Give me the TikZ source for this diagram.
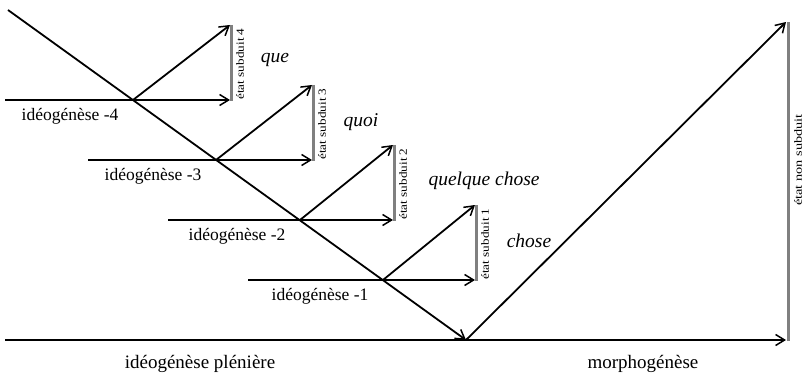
\documentclass[tikz,border=0pt]{standalone}
\usepackage{fontspec}
\setmainfont{Liberation Serif}
\usetikzlibrary{arrows.meta}
\definecolor{bargray}{RGB}{128,128,128}
\begin{document}
\begin{tikzpicture}[x=1pt,y=-1pt,
  ln/.style={line width=1.8pt,black},
  arr/.style={ln,-{Straight Barb[length=9pt,width=11pt,line width=1.5pt]}},
  bar/.style={line width=3pt,color=bargray},
  lbl/.style={inner sep=0pt,font=\fontsize{17.5}{20}\selectfont},
  big/.style={inner sep=0pt,font=\fontsize{19}{22}\selectfont},
  it/.style={inner sep=0pt,font=\fontsize{19.5}{22}\selectfont\itshape},
  sub/.style={inner sep=0pt,rotate=90,font=\fontsize{11}{13}\selectfont}]
\useasboundingbox (0,0) rectangle (805,374);
% key points
\coordinate (d0) at (8,10);
\coordinate (V) at (466,340);
\coordinate (i4) at (133,100);
\coordinate (i3) at (216,160);
\coordinate (i2) at (300,220);
\coordinate (i1) at (383,280);
\coordinate (h4) at (5,100);   \coordinate (e4) at (230,100);
\coordinate (h3) at (88,160);  \coordinate (e3) at (312,160);
\coordinate (h2) at (168,220); \coordinate (e2) at (393,220);
\coordinate (h1) at (248,280); \coordinate (e1) at (475,280);
\coordinate (h0) at (5,340);   \coordinate (e0) at (786,340);
\coordinate (t4) at (230,25);  \coordinate (b4t) at (231,25);  \coordinate (b4b) at (231,101);
\coordinate (t3) at (312,85);  \coordinate (b3t) at (313,85);  \coordinate (b3b) at (313,161);
\coordinate (t2) at (393,145); \coordinate (b2t) at (394,145); \coordinate (b2b) at (394,221);
\coordinate (t1) at (475,205); \coordinate (b1t) at (476,205); \coordinate (b1b) at (476,281);
\coordinate (t0) at (786,22);  \coordinate (b0t) at (788,22);  \coordinate (b0b) at (788,341);
% bars
\draw[bar] (b4t) -- (b4b);
\draw[bar] (b3t) -- (b3b);
\draw[bar] (b2t) -- (b2b);
\draw[bar] (b1t) -- (b1b);
\draw[bar] (b0t) -- (b0b);
% main diagonal
\draw[arr] (d0) -- (V);
% horizontals
\draw[arr] (h4) -- (e4);
\draw[arr] (h3) -- (e3);
\draw[arr] (h2) -- (e2);
\draw[arr] (h1) -- (e1);
\draw[arr] (h0) -- (e0);
% ascending arrows
\draw[arr] (i4) -- (t4);
\draw[arr] (i3) -- (t3);
\draw[arr] (i2) -- (t2);
\draw[arr] (i1) -- (t1);
\draw[arr] (V) -- (t0);
% labels
\node[lbl] (l4) at (70,116) {idéogénèse -4};
\node[lbl] (l3) at (153,176) {idéogénèse -3};
\node[lbl] (l2) at (237,236) {idéogénèse -2};
\node[lbl] (l1) at (320,296) {idéogénèse -1};
\node[big] (lp) at (200,364) {idéogénèse plénière};
\node[big] (lm) at (643,364) {morphogénèse};
\node[it] (q4) at (275,60) {que};
\node[it] (q3) at (361,122) {quoi};
\node[it] (q2) at (484,181) {quelque chose};
\node[it] (q1) at (529,241) {chose};
\node[sub] (s4) at (240,64) {\scalebox{1.2}[1]{état subduit 4}};
\node[sub] (s3) at (322,124) {\scalebox{1.2}[1]{état subduit 3}};
\node[sub] (s2) at (403,184) {\scalebox{1.2}[1]{état subduit 2}};
\node[sub] (s1) at (485,244) {\scalebox{1.2}[1]{état subduit 1}};
\node[sub] (s0) at (798,160) {\scalebox{1.3}[1]{état non subduit}};
\end{tikzpicture}
\end{document}
